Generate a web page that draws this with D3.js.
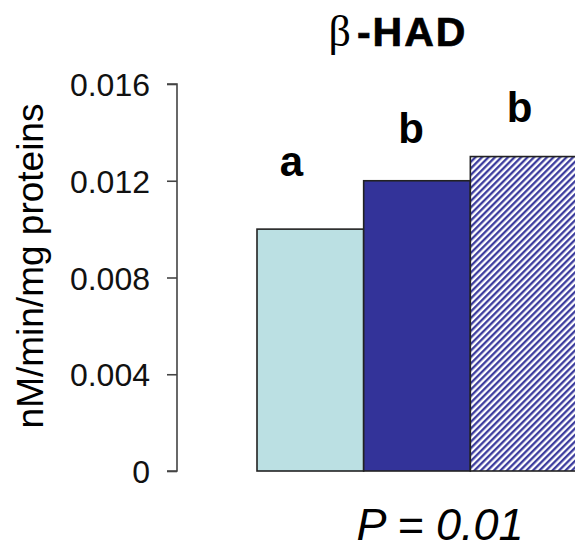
<!DOCTYPE html>
<html>
<head>
<meta charset="utf-8">
<script src="https://cdn.jsdelivr.net/npm/d3@7"></script>
<style>
  html, body { margin: 0; padding: 0; background: #fff; }
  svg { display: block; }
  text { font-family: "Liberation Sans", Arial, sans-serif; }
</style>
</head>
<body>
<svg id="chart" width="575" height="550"></svg>
<script>
// ---- data ----
const categories = ["Group 1", "Group 2", "Group 3"];
const values = [0.0100, 0.0120, 0.0130];
const letters = ["a", "b", "b"];
const letterGap = [0.0022, 0.00156, 0.00143];
const yTicks = [0, 0.004, 0.008, 0.012, 0.016];
const yTickLabels = ["0", "0.004", "0.008", "0.012", "0.016"];
const titleGreek = "β";
const titleText = "-HAD";
const yLabel = "nM/min/mg proteins";
const pText = "P = 0.01";

// ---- layout ----
const svg = d3.select("#chart");
const axisX = 177;
const y = d3.scaleLinear().domain([0, 0.016]).range([471, 84]);
const x = d3.scaleBand().domain(categories).range([257, 577]).padding(0);
const letterDx = [-19, -6, -4];

const navy = "#333399";
const fills = ["#bbe0e3", navy, "url(#hatch)"];

const defs = svg.append("defs");
const pat = defs.append("pattern")
  .attr("id", "hatch")
  .attr("patternUnits", "userSpaceOnUse")
  .attr("width", 4.6).attr("height", 4.6)
  .attr("patternTransform", "rotate(45)");
pat.append("rect").attr("width", 4.6).attr("height", 4.6).attr("fill", "#fff");
pat.append("line").attr("x1", 1.2).attr("y1", 0).attr("x2", 1.2).attr("y2", 4.6)
  .attr("stroke", navy).attr("stroke-width", 2.2);

// bars
svg.selectAll("rect.bar").data(values).enter().append("rect")
  .attr("class", "bar")
  .attr("x", (d, i) => x(categories[i]))
  .attr("y", d => y(d))
  .attr("width", x.bandwidth())
  .attr("height", d => y(0) - y(d))
  .attr("fill", (d, i) => fills[i])
  .attr("stroke", "#222")
  .attr("stroke-width", 1.6);

// significance letters
svg.selectAll("text.letter").data(letters).enter().append("text")
  .attr("class", "letter")
  .attr("x", (d, i) => x(categories[i]) + x.bandwidth() / 2 + letterDx[i])
  .attr("y", (d, i) => y(values[i] + letterGap[i]))
  .attr("text-anchor", "middle")
  .attr("font-weight", "bold")
  .attr("font-size", 42)
  .attr("fill", "#000")
  .text(d => d);

// y axis
const axis = d3.axisLeft(y)
  .tickValues(yTicks)
  .tickFormat((d, i) => yTickLabels[i])
  .tickSize(10)
  .tickPadding(17);
const gAxis = svg.append("g").attr("transform", `translate(${axisX},0)`).call(axis);
gAxis.select(".domain").attr("stroke", "#444").attr("stroke-width", 1.6)
  .attr("d", `M-10,${y(0.016)}H0V${y(0)}H-10`);
gAxis.selectAll(".tick line").attr("stroke", "#444").attr("stroke-width", 1.6);
gAxis.selectAll(".tick text")
  .attr("font-family", "'Liberation Sans', Arial, sans-serif")
  .attr("font-size", 32)
  .attr("fill", "#111")
  .attr("dy", "0.36em");

// y label
svg.append("text")
  .attr("transform", `translate(43,266) rotate(-90)`)
  .attr("text-anchor", "middle")
  .attr("font-size", 37)
  .attr("fill", "#000")
  .text(yLabel);

// title
const title = svg.append("text")
  .attr("x", 398).attr("y", 46)
  .attr("text-anchor", "middle")
  .attr("fill", "#000");
title.append("tspan")
  .attr("font-family", "'Liberation Serif', 'DejaVu Serif', serif")
  .attr("font-size", 44)
  .text(titleGreek);
title.append("tspan")
  .attr("dx", 6)
  .attr("font-weight", "bold")
  .attr("font-size", 41)
  .attr("letter-spacing", 2)
  .attr("stroke", "#000")
  .attr("stroke-width", 0.7)
  .text(titleText);

// P value
svg.append("text")
  .attr("x", 440).attr("y", 540)
  .attr("text-anchor", "middle")
  .attr("font-style", "italic")
  .attr("font-size", 45)
  .attr("fill", "#000")
  .text(pText);
</script>
</body>
</html>
